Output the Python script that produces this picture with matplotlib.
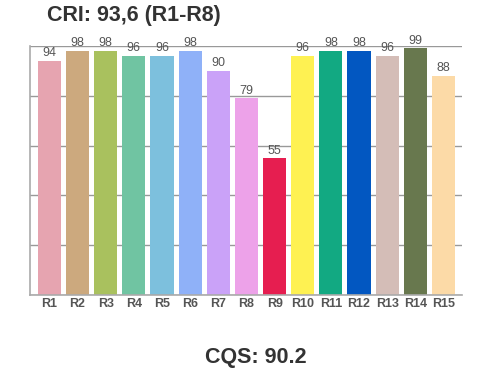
import matplotlib
matplotlib.use("Agg")
import matplotlib.pyplot as plt

# CRI values per test colour sample
labels = ["R1", "R2", "R3", "R4", "R5", "R6", "R7", "R8",
          "R9", "R10", "R11", "R12", "R13", "R14", "R15"]
values = [94, 98, 98, 96, 96, 98, 90, 79, 55, 96, 98, 98, 96, 99, 88]
colors = ["#E6A4B0", "#CCA97E", "#A9C15E", "#70C4A2", "#7DC0DD", "#8FB1F8",
          "#CAA2F8", "#EDA2E9", "#E61E50", "#FEF152", "#12A982", "#0257C1",
          "#D4BDB7", "#68784E", "#FCDAA7"]
title = "CRI: 93,6 (R1-R8)"
footer = "CQS: 90.2"

plt.rcParams['font.family'] = ['Liberation Sans', 'DejaVu Sans']

fig = plt.figure(figsize=(5, 3.7), dpi=100)
ax = fig.add_axes([0.06, 0.2027, 0.864, 0.673])

x = list(range(len(values)))
bars = ax.bar(x, values, width=0.82, color=colors, zorder=2)

for xi, v in zip(x, values):
    ax.text(xi, v + 0.6, str(v), ha='center', va='bottom',
            fontsize=9, color='#555555')

ax.set_xlim(-0.69, 14.66)
ax.set_ylim(0, 100)
ax.set_yticks(range(0, 101, 20))
ax.set_yticklabels([])
ax.grid(axis='y', color='#999999', linewidth=1, zorder=0)
ax.tick_params(axis='y', length=0)
ax.tick_params(axis='x', length=0, pad=2)
ax.set_xticks(x)
ax.set_xticklabels(labels, fontsize=9, fontweight='bold', color='#555555')

for s in ['top', 'right']:
    ax.spines[s].set_visible(False)
ax.spines['left'].set_color('#aaaaaa')
ax.spines['bottom'].set_color('#aaaaaa')
ax.spines['left'].set_linewidth(1.2)
ax.spines['bottom'].set_linewidth(1.2)

fig.text(0.094, 0.958, title, fontsize=15.5, fontweight='bold',
         color='#333333', ha='left', va='center')
fig.text(0.512, 0.035, footer, fontsize=15.5, fontweight='bold',
         color='#333333', ha='center', va='center')

fig.savefig("out.png", dpi=100)
